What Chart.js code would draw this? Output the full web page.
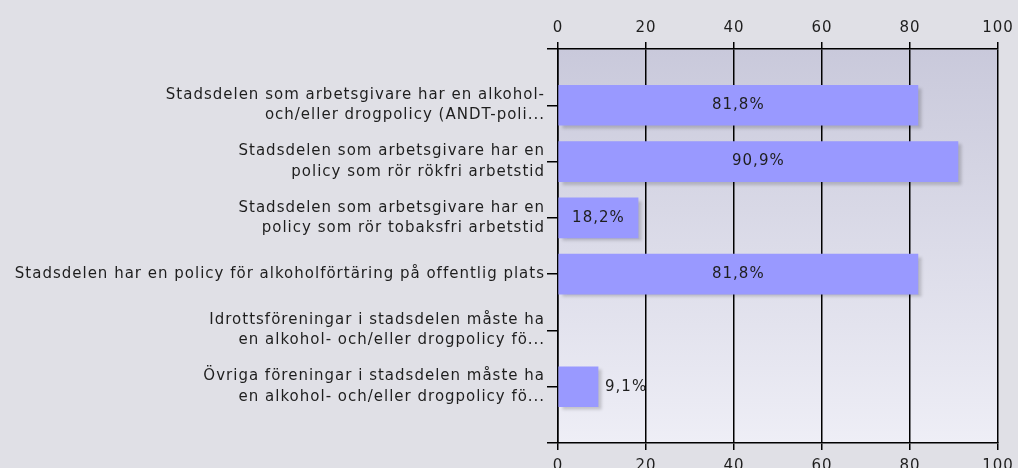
<!DOCTYPE html>
<html>
<head>
<meta charset="utf-8">
<script src="https://cdn.jsdelivr.net/npm/chart.js@4"></script>
<style>
  html, body { margin: 0; padding: 0; background: #e0e0e6; }
  #wrap { width: 1018px; height: 468px; }
</style>
</head>
<body>
<div id="wrap"><canvas id="myChart" width="1018" height="468"></canvas></div>
<script>
// categories (empty first/last slot keeps ticks at the plot edges)
var categories = [
  "",
  ["Stadsdelen som arbetsgivare har en alkohol-", "och/eller drogpolicy (ANDT-poli..."],
  ["Stadsdelen som arbetsgivare har en", "policy som rör rökfri arbetstid"],
  ["Stadsdelen som arbetsgivare har en", "policy som rör tobaksfri arbetstid"],
  "Stadsdelen har en policy för alkoholförtäring på offentlig plats",
  ["Idrottsföreningar i stadsdelen måste ha", "en alkohol- och/eller drogpolicy fö..."],
  ["Övriga föreningar i stadsdelen måste ha", "en alkohol- och/eller drogpolicy fö..."],
  ""
];
var values = [null, 81.8, 90.9, 18.2, 81.8, 0, 9.1, null];
var tickValues = [0, 20, 40, 60, 80, 100];

var FONT = "DejaVu Sans";
var SIZE = 15;
var textColor = "#1e1e1e";

// wider letter spacing, closer to the original's look
var spacing = {
  id: "spacing",
  beforeUpdate: function (chart) { chart.ctx.letterSpacing = "1px"; },
  beforeDraw: function (chart) { chart.ctx.letterSpacing = "1px"; }
};

var plotBg = {
  id: "plotBg",
  beforeDraw: function (chart) {
    var a = chart.chartArea, c = chart.ctx;
    var g = c.createLinearGradient(0, a.top, 0, a.bottom);
    g.addColorStop(0, "#c9c9db");
    g.addColorStop(1, "#eeeef6");
    c.save();
    c.fillStyle = g;
    c.fillRect(a.left, a.top, a.right - a.left, a.bottom - a.top);
    c.restore();
  }
};

var barShadow = {
  id: "barShadow",
  beforeDatasetDraw: function (chart) {
    var c = chart.ctx;
    c.save();
    c.shadowColor = "rgba(0,0,0,0.18)";
    c.shadowOffsetX = 4;
    c.shadowOffsetY = 3;
    c.shadowBlur = 3;
  },
  afterDatasetDraw: function (chart) {
    chart.ctx.restore();
  }
};

var barLabels = {
  id: "barLabels",
  afterDatasetsDraw: function (chart) {
    var c = chart.ctx;
    var meta = chart.getDatasetMeta(0);
    c.save();
    c.font = SIZE + "px " + FONT;
    c.fillStyle = textColor;
    c.textBaseline = "middle";
    meta.data.forEach(function (bar, i) {
      var v = values[i];
      if (!v) return;
      var txt = v.toFixed(1).replace(".", ",") + "%";
      var w = c.measureText(txt).width;
      var left = bar.base, right = bar.x;
      if (w + 16 < right - left) {
        c.textAlign = "center";
        c.fillText(txt, (left + right) / 2, bar.y);
      } else {
        c.textAlign = "left";
        c.fillText(txt, right + 7, bar.y);
      }
    });
    c.restore();
  }
};

document.addEventListener("DOMContentLoaded", function () {
  var ctx = document.getElementById("myChart").getContext("2d");
  var axisX = {
    min: 0,
    max: 100,
    afterBuildTicks: function (scale) {
      scale.ticks = tickValues.map(function (v) { return { value: v }; });
    },
    ticks: { color: textColor, font: { family: FONT, size: SIZE }, padding: 5 },
    border: { display: true, color: "#000", width: 1.5 }
  };
  var myChart = new Chart(ctx, {
    type: "bar",
    data: {
      labels: categories,
      datasets: [
        {
          data: values,
          backgroundColor: function (c) {
            return c.raw ? "#9999ff" : "rgba(0,0,0,0)";
          },
          borderWidth: 0,
          barThickness: 40
        }
      ]
    },
    options: {
      indexAxis: "y",
      responsive: false,
      animation: false,
      layout: { padding: { right: 20 } },
      plugins: { legend: { display: false }, tooltip: { enabled: false } },
      scales: {
        x: Object.assign({}, axisX, {
          position: "top",
          grid: { color: "#000", lineWidth: 1.5, tickLength: 7 },
          afterFit: function (s) { s.height = 49; s.paddingLeft = 0; s.paddingRight = 0; }
        }),
        x2: Object.assign({}, axisX, {
          position: "bottom",
          ticks: { color: textColor, font: { family: FONT, size: SIZE }, padding: 7 },
          grid: { drawOnChartArea: false, color: "#000", lineWidth: 1.5, tickLength: 7 },
          afterFit: function (s) { s.height = 25; s.paddingLeft = 0; s.paddingRight = 0; }
        }),
        y: {
          type: "category",
          offset: false,
          grid: { offset: false, drawOnChartArea: false, color: "#000", lineWidth: 1.5, tickLength: 11 },
          border: { display: true, color: "#000", width: 1.5 },
          ticks: {
            autoSkip: false,
            color: textColor,
            font: { family: FONT, size: SIZE, lineHeight: 1.35 },
            padding: 2
          },
          afterFit: function (s) { s.width = 558; }
        }
      }
    },
    plugins: [spacing, plotBg, barShadow, barLabels]
  });
});
</script>
</body>
</html>
